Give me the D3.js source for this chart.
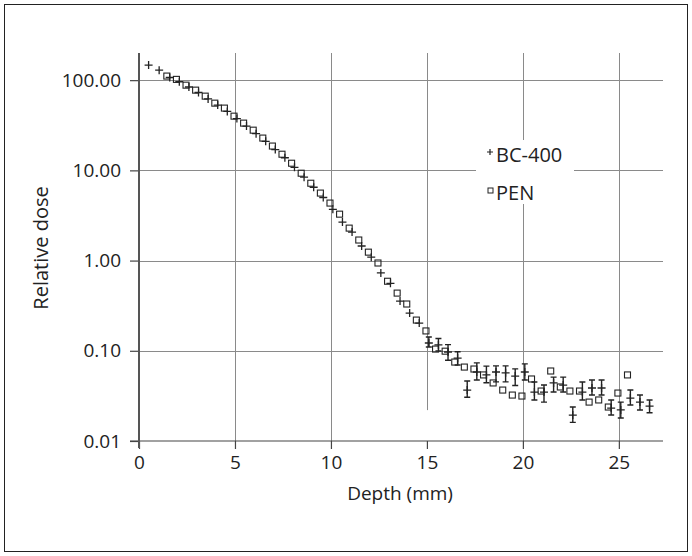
<!DOCTYPE html>
<html>
<head>
<meta charset="utf-8">
<script src="https://cdn.jsdelivr.net/npm/d3@7"></script>
<style>
  body { margin: 0; background: #fff; }
  text { font-family: "Open Sans", "Noto Sans", sans-serif; fill: #222; }
</style>
</head>
<body>
<div id="chart"></div>
<script>
var width = 692;
var height = 556;

// BC-400 (+): depth (mm), relative dose, error bar low / high (tail only)
var bcDepth = [0.5, 1.05, 1.6, 2.1, 2.6, 3.1, 3.6, 4.1, 4.6, 5.1, 5.6, 6.1, 6.6, 7.1, 7.6, 8.1, 8.6, 9.1, 9.6, 10.1,
  10.6, 11.1, 11.6, 12.1, 12.6, 13.1, 13.6, 14.1, 14.6,
  15.1, 15.6, 16.1, 16.6, 17.1, 17.6, 18.1, 18.6, 19.1, 19.6, 20.1, 20.6, 21.1, 21.6, 22.1, 22.6, 23.1, 23.6,
  24.1, 24.6, 25.1, 25.6, 26.1, 26.6];
var bcDose = [147, 129, 107, 96, 84, 73, 62, 53, 45, 37.5, 31, 25.5, 21, 17, 13.8, 10.8, 8.4, 6.5, 5.0, 3.7,
  2.67, 2.07, 1.45, 1.09, 0.73, 0.56, 0.356, 0.262, 0.203,
  0.122, 0.116, 0.097, 0.083, 0.0367, 0.0582, 0.054, 0.0582, 0.057, 0.0525, 0.0582, 0.0349, 0.0349, 0.044, 0.0417, 0.0194, 0.0349, 0.0387,
  0.0387, 0.0232, 0.0221, 0.0299, 0.027, 0.0244];
var bcErrLow = [0.110, 0.0996, 0.0785, 0.0695, 0.0305, 0.0475, 0.0442, 0.0452, 0.0452, 0.0413, 0.0475, 0.0285, 0.027, 0.0349, 0.0349, 0.0161, 0.0285, 0.0323,
  0.0323, 0.0194, 0.018, 0.0251, 0.0221, 0.0206];
var bcErrHigh = [0.142, 0.137, 0.117, 0.0975, 0.0462, 0.0734, 0.0676, 0.068, 0.068, 0.063, 0.0716, 0.045, 0.0417, 0.0511, 0.0511, 0.0238, 0.045, 0.0475,
  0.0475, 0.0285, 0.027, 0.0367, 0.0323, 0.0285];
var bcErrStart = 29; // index of first point with an error bar

// PEN (square)
var penDepth = [1.45, 1.95, 2.45, 2.95, 3.45, 3.95, 4.45, 4.95, 5.45, 5.95, 6.45, 6.95, 7.45, 7.95, 8.45, 8.95, 9.45, 9.95,
  10.45, 10.95, 11.45, 11.95, 12.45, 12.95, 13.45, 13.95, 14.45, 14.95,
  15.45, 15.95, 16.45, 16.95, 17.45, 17.95, 18.45, 18.95, 19.45, 19.95, 20.45, 20.95, 21.45, 21.95, 22.45, 22.95,
  23.45, 23.95, 24.45, 24.95, 25.45];
var penDose = [111, 102, 88, 77.5, 66.5, 55.6, 49, 39.9, 33.4, 27.9, 22.8, 18.6, 15.1, 12.0, 9.3, 7.2, 5.6, 4.34,
  3.27, 2.29, 1.69, 1.24, 0.94, 0.59, 0.436, 0.33, 0.219, 0.166,
  0.1045, 0.099, 0.075, 0.066, 0.0628, 0.054, 0.044, 0.0367, 0.0323, 0.0315, 0.0487, 0.0358, 0.0597, 0.0397, 0.0358, 0.0358,
  0.027, 0.0285, 0.0238, 0.034, 0.054];

var xTicks = [0, 5, 10, 15, 20, 25];
var yTicks = [0.01, 0.1, 1, 10, 100];
var seriesNames = ["BC-400", "PEN"];

var svg = d3
  .select("#chart")
  .append("svg")
  .attr("width", width)
  .attr("height", height);

// outer frame
svg.append("rect")
  .attr("x", 4.5).attr("y", 4.5)
  .attr("width", 683).attr("height", 547)
  .attr("fill", "none")
  .attr("stroke", "#222")
  .attr("stroke-width", 1);

var x = d3.scaleLinear().domain([0, 27.3]).range([139, 663]);
var y = d3.scaleLog().domain([0.01, 200]).range([441, 53]);

// grid
var grid = svg.append("g").attr("stroke", "#8a8a8a").attr("stroke-width", 1);
grid.selectAll(".vg")
  .data(xTicks.slice(1))
  .enter()
  .append("line")
  .attr("class", "vg")
  .attr("x1", function(d) { return Math.round(x(d)) + 0.5; })
  .attr("x2", function(d) { return Math.round(x(d)) + 0.5; })
  .attr("y1", y(200))
  .attr("y2", function(d) { return d === 15 ? y(0.022) : y(0.01); });
grid.selectAll(".hg")
  .data(yTicks.slice(1))
  .enter()
  .append("line")
  .attr("class", "hg")
  .attr("x1", x(0))
  .attr("x2", x(27.3))
  .attr("y1", function(d) { return Math.round(y(d)) + 0.5; })
  .attr("y2", function(d) { return Math.round(y(d)) + 0.5; });

// legend background breaks the grid
svg.append("rect")
  .attr("x", 476).attr("y", 140)
  .attr("width", 98).attr("height", 64)
  .attr("fill", "#fff");

// axes
var xAxis = svg.append("g")
  .attr("transform", "translate(0,441)")
  .call(d3.axisBottom(x).tickValues(xTicks).tickSize(8).tickPadding(7).tickFormat(d3.format("d")));
xAxis.select(".domain").remove();
xAxis.append("line")
  .attr("x1", 130).attr("x2", 663)
  .attr("stroke", "#444").attr("stroke-width", 1.2);
xAxis.selectAll(".tick line").attr("stroke", "#444").attr("stroke-width", 1.2);
xAxis.selectAll(".tick text")
  .style("font-size", "19px")
  .attr("fill", "#222");

var yAxis = svg.append("g")
  .attr("transform", "translate(139,0)")
  .call(d3.axisLeft(y).tickValues(yTicks).tickSize(9).tickPadding(9).tickFormat(d3.format(".2f")));
yAxis.select(".domain").remove();
yAxis.append("line")
  .attr("y1", 53).attr("y2", 448)
  .attr("stroke", "#555").attr("stroke-width", 2);
yAxis.selectAll(".tick line").attr("stroke", "#444").attr("stroke-width", 1.2);
yAxis.selectAll(".tick text")
  .style("font-size", "19px")
  .attr("fill", "#222");

svg.append("text")
  .attr("x", x(13.6))
  .attr("y", 500)
  .attr("text-anchor", "middle")
  .style("font-size", "19px")
  .text("Depth (mm)");

svg.append("text")
  .attr("transform", "translate(48,248) rotate(-90)")
  .attr("text-anchor", "middle")
  .style("font-size", "20px")
  .text("Relative dose");

// error bars for BC-400 tail
var errData = bcErrLow.map(function(lo, i) {
  return { d: bcDepth[bcErrStart + i], lo: lo, hi: bcErrHigh[i] };
});
var err = svg.append("g").attr("stroke", "#222").attr("stroke-width", 1.4);
err.selectAll(".eb")
  .data(errData)
  .enter()
  .append("path")
  .attr("class", "eb")
  .attr("d", function(e) {
    var cx = x(e.d), y1 = y(e.hi), y2 = y(e.lo);
    return "M" + (cx - 3) + "," + y1 + "H" + (cx + 3) +
      "M" + cx + "," + y1 + "V" + y2 +
      "M" + (cx - 3) + "," + y2 + "H" + (cx + 3);
  });

// PEN squares
var pen = penDepth.map(function(d, i) { return { d: d, v: penDose[i] }; });
svg.selectAll(".pen")
  .data(pen)
  .enter()
  .append("rect")
  .attr("class", "pen")
  .attr("x", function(p) { return x(p.d) - 3; })
  .attr("y", function(p) { return y(p.v) - 3; })
  .attr("width", 6)
  .attr("height", 6)
  .attr("fill", "none")
  .attr("stroke", "#222")
  .attr("stroke-width", 1.1);

// BC-400 plus signs
var bc = bcDepth.map(function(d, i) { return { d: d, v: bcDose[i] }; });
svg.selectAll(".bc")
  .data(bc)
  .enter()
  .append("path")
  .attr("class", "bc")
  .attr("d", function(p) {
    var cx = x(p.d), cy = y(p.v);
    return "M" + (cx - 4) + "," + cy + "H" + (cx + 4) + "M" + cx + "," + (cy - 4) + "V" + (cy + 4);
  })
  .attr("stroke", "#222")
  .attr("stroke-width", 1.3);

// legend
var legend = svg.append("g");
legend.append("path")
  .attr("d", "M487,152H493M490,149V155")
  .attr("stroke", "#222").attr("stroke-width", 1.2);
legend.append("rect")
  .attr("x", 488).attr("y", 188).attr("width", 5).attr("height", 5)
  .attr("fill", "none").attr("stroke", "#222").attr("stroke-width", 1);
legend.selectAll(".lt")
  .data(seriesNames)
  .enter()
  .append("text")
  .attr("class", "lt")
  .attr("x", 496)
  .attr("y", function(d, i) { return 162 + i * 38; })
  .style("font-size", "20px")
  .text(function(d) { return d; });
</script>
</body>
</html>
